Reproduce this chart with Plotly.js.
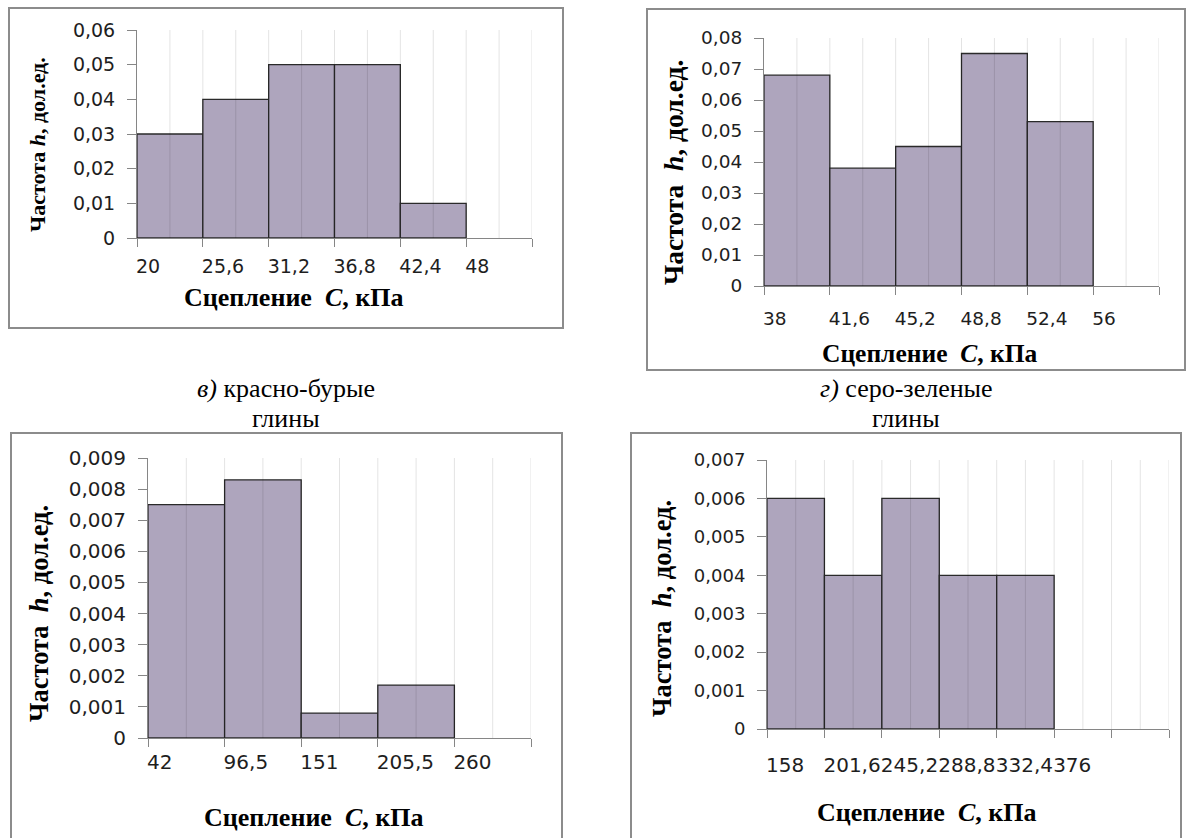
<!DOCTYPE html>
<html><head><meta charset="utf-8">
<script src="https://cdn.plot.ly/plotly-3.0.1.min.js"></script>
<style>html,body{margin:0;padding:0;background:#fff}#chart{width:1186px;height:838px}</style>
</head><body><div id="chart"></div>
<script>
// ---------- DATA ----------
// a) top-left
const edgesA = [20, 25.6, 31.2, 36.8, 42.4, 48];
const labelsA = ["20", "25,6", "31,2", "36,8", "42,4", "48"];
const freqA = [0.03, 0.04, 0.05, 0.05, 0.01];
// b) top-right
const edgesB = [38, 41.6, 45.2, 48.8, 52.4, 56];
const labelsB = ["38", "41,6", "45,2", "48,8", "52,4", "56"];
const freqB = [0.068, 0.038, 0.045, 0.075, 0.053];
// в) красно-бурые глины
const edgesC = [42, 96.5, 151, 205.5, 260];
const labelsC = ["42", "96,5", "151", "205,5", "260"];
const freqC = [0.0075, 0.0083, 0.0008, 0.0017];
// г) серо-зеленые глины
const edgesD = [158, 201.6, 245.2, 288.8, 332.4, 376];
const labelsD = ["158", "201,6", "245,2", "288,8", "332,4", "376"];
const freqD = [0.006, 0.004, 0.006, 0.004, 0.004];

const xTitle = "<b>Сцепление\u00a0 <i>C</i>, кПа</b>";
const yTitleA = "<b>Частота <i>h</i>, дол.ед.</b>";
const yTitle = "<b>Частота\u00a0 <i>h</i>, дол.ед.</b>";
const titleC = ["<i>в)</i> красно-бурые", "глины"];
const titleD = ["<i>г)</i> серо-зеленые", "глины"];

// ---------- LAYOUT HELPERS ----------
const W = 1186, H = 838;
const px = v => v / W, py = v => 1 - v / H;

const panels = [
  {edges: edgesA, labels: labelsA, freq: freqA, ncat: 6, ymax: 0.06, dtick: 0.01, fmt: '.2~f',
   plot: [137, 532, 30, 238], box: [9, 8, 563, 328], xf: 19, yf: 19, xso: 11,
   xt: [293, 298], yt: [37, 145], xtf: 26, ytf: 22, ytext: yTitleA},
  {edges: edgesB, labels: labelsB, freq: freqB, ncat: 6, ymax: 0.08, dtick: 0.01, fmt: '.2~f',
   plot: [764, 1159, 38, 286], box: [647, 9, 1185, 370], xf: 18.5, yf: 18.5, xso: 16,
   xt: [929, 353], yt: [673, 173], xtf: 25.5, ytf: 27.5, ytext: yTitle},
  {edges: edgesC, labels: labelsC, freq: freqC, ncat: 5, ymax: 0.009, dtick: 0.001, fmt: '.3~f',
   plot: [148, 531, 458, 738], box: [11, 433, 562, 842], xf: 20, yf: 20, xso: 6,
   xt: [313, 817], yt: [39, 614], xtf: 26, ytf: 26.5, ytext: yTitle},
  {edges: edgesD, labels: labelsD, freq: freqD, ncat: 7, ymax: 0.007, dtick: 0.001, fmt: '.3~f',
   plot: [767, 1169, 460, 729], box: [631, 433, 1181, 842], xf: 20, yf: 18, xso: 18,
   xt: [927, 812], yt: [662, 609], xtf: 26, ytf: 26.5, ytext: yTitle}
];

const data = [];
const layout = {
  width: W, height: H, margin: {l: 0, r: 0, t: 0, b: 0},
  paper_bgcolor: '#ffffff', plot_bgcolor: 'rgba(0,0,0,0)',
  showlegend: false, separators: ', ', bargap: 0,
  shapes: [], annotations: []
};
const axisGray = '#868686';
const serif = 'Liberation Serif, Tinos, Times New Roman, serif';

panels.forEach((p, i) => {
  const k = i + 1;
  const sfx = k === 1 ? '' : String(k);
  const xa = 'x' + sfx, ya = 'y' + sfx;
  const bin = +(p.edges[1] - p.edges[0]).toFixed(4);
  const x0 = p.edges[0], x1 = x0 + p.ncat * bin;
  const bounds = Array.from({length: p.ncat + 1}, (_, j) => +(x0 + j * bin).toFixed(4));
  const texts = bounds.map((_, j) => p.labels[j] !== undefined ? p.labels[j] : '');

  data.push({
    type: 'bar', x: p.edges.slice(0, p.freq.length), y: p.freq,
    width: bin, offset: 0, xaxis: xa, yaxis: ya,
    marker: {color: '#aea5bd', line: {color: '#2a2a2a', width: 1.3}},
    hoverinfo: 'x+y'
  });

  layout['xaxis' + sfx] = {
    domain: [px(p.plot[0]), px(p.plot[1])], anchor: ya, range: [x0, x1], fixedrange: true,
    tickvals: bounds, ticktext: texts, tickangle: 0,
    ticklabelposition: 'outside right', ticklabelstandoff: p.xso, ticklabelshift: -2,
    ticks: 'outside', ticklen: 8, tickcolor: axisGray, tickwidth: 1,
    showline: true, linecolor: axisGray, linewidth: 1,
    showgrid: false, zeroline: false, layer: 'above traces',
    tickfont: {family: 'DejaVu Sans', size: p.xf, color: '#1e1e1e'}
  };
  layout['yaxis' + sfx] = {
    domain: [py(p.plot[3]), py(p.plot[2])], anchor: xa, range: [0, p.ymax], dtick: p.dtick, tick0: 0,
    tickformat: p.fmt, fixedrange: true,
    ticks: 'outside', ticklen: 9, tickcolor: axisGray, tickwidth: 1,
    ticklabelstandoff: 8,
    showline: true, linecolor: axisGray, linewidth: 1,
    showgrid: false, zeroline: false,
    tickfont: {family: 'DejaVu Sans', size: p.yf, color: '#1e1e1e'}
  };

  // vertical gridlines (category edges and centres), drawn over the bars like the original
  const gridPos = [];
  bounds.forEach((b, j) => {
    if (j > 0) gridPos.push(b);
    if (j < p.ncat) gridPos.push(+(b + bin / 2).toFixed(4));
  });
  gridPos.forEach(g => layout.shapes.push({
    type: 'line', xref: xa, yref: ya + ' domain', x0: g, x1: g, y0: 0, y1: 1,
    line: {color: 'rgba(0,0,0,0.11)', width: 1}, layer: 'above'
  }));

  layout.shapes.push({
    type: 'rect', xref: 'paper', yref: 'paper',
    x0: px(p.box[0]), x1: px(p.box[2]), y0: py(p.box[3]), y1: py(p.box[1]),
    line: {color: '#8c8c8c', width: 2}, fillcolor: 'rgba(0,0,0,0)', layer: 'below'
  });
  layout.annotations.push({
    text: xTitle, xref: 'paper', yref: 'paper', x: px(p.xt[0]), y: py(p.xt[1]),
    xanchor: 'center', yanchor: 'middle', showarrow: false,
    font: {family: serif, size: p.xtf, color: '#000'}
  });
  layout.annotations.push({
    text: p.ytext, xref: 'paper', yref: 'paper', x: px(p.yt[0]), y: py(p.yt[1]),
    xanchor: 'center', yanchor: 'middle', showarrow: false, textangle: -90,
    font: {family: serif, size: p.ytf, color: '#000'}
  });
});

[[titleC, 286], [titleD, 906]].forEach(([lines, cx]) => {
  lines.forEach((t, j) => layout.annotations.push({
    text: t, xref: 'paper', yref: 'paper', x: px(cx), y: py(j === 0 ? 388 : 418),
    xanchor: 'center', yanchor: 'middle', showarrow: false,
    font: {family: serif, size: 26, color: '#000'}
  }));
});

Plotly.newPlot('chart', data, layout, {displayModeBar: false, staticPlot: true});
</script>
</body></html>
